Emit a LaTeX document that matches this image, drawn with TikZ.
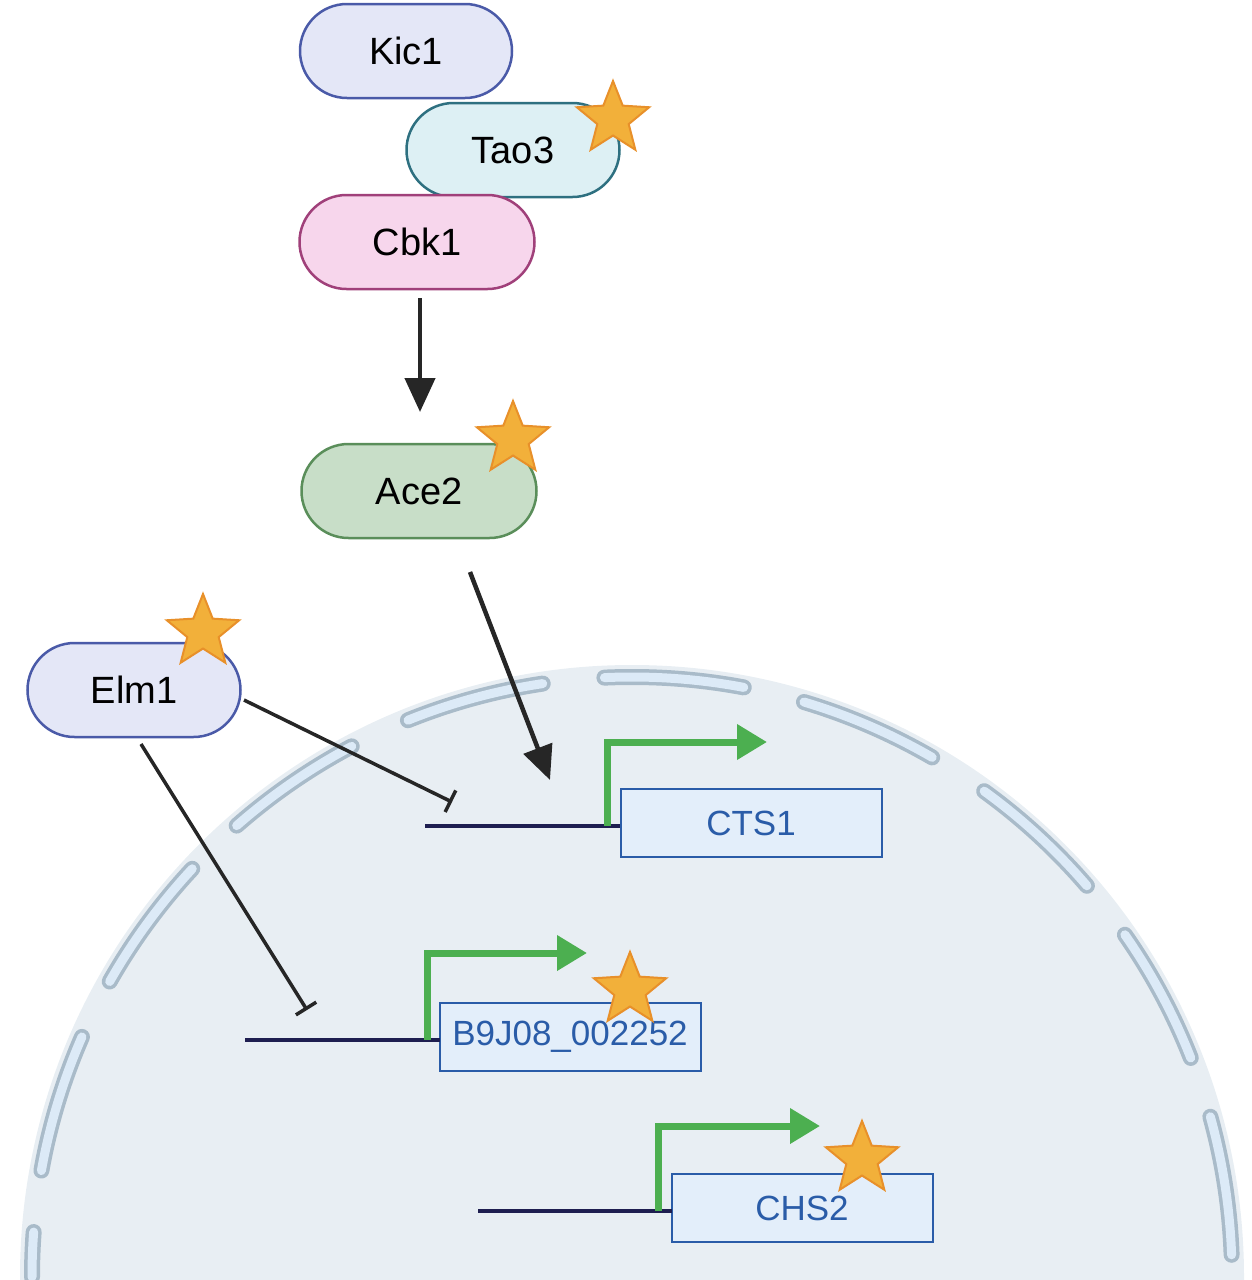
\documentclass[tikz,border=0pt]{standalone}
\usepackage{fontspec}
\setmainfont{Liberation Sans}
\usetikzlibrary{shapes.geometric,arrows.meta}
\definecolor{nuc}{HTML}{E8EEF3}
\definecolor{memo}{HTML}{A9BBC9}
\definecolor{memi}{HTML}{DCEAF7}
\definecolor{gbox}{HTML}{E3EEFA}
\definecolor{gtxt}{HTML}{2A5CA8}
\definecolor{gline}{HTML}{1E1E50}
\definecolor{ggreen}{HTML}{4CAF50}
\definecolor{starf}{HTML}{F2B03A}
\definecolor{stard}{HTML}{E8902A}
\definecolor{lav}{HTML}{E4E7F7}
\tikzset{
 prot/.style={draw, rounded corners=47pt, line width=2.5pt, minimum height=94pt, font=\fontsize{38}{42}\selectfont, inner sep=0},
 pstar/.style={star, star points=5, star point ratio=2.3, minimum size=76pt, fill=starf, draw=stard, line width=2pt, inner sep=0},
 gene/.style={draw=gtxt, fill=gbox, line width=2pt, minimum width=261pt, minimum height=68pt, text=gtxt, font=\fontsize{35}{38}\selectfont, inner sep=0},
 act/.style={line width=4.5pt, -{Triangle[length=34pt,width=30pt]}},
 inh/.style={line width=3.5pt, -{Bar[width=24pt,line width=3.5pt]}},
 dna/.style={gline, line width=4pt},
 tss/.style={ggreen, line width=7pt, -{Triangle[length=30pt,width=34pt]}},
 mem/.style={line width=#1, line cap=round, dash pattern=on 140pt off 62pt, dash phase=95pt}
}
\begin{document}
\begin{tikzpicture}[x=1pt,y=-1pt]
\useasboundingbox (0,0) rectangle (1252,1280);
\begin{scope}
\clip (0,0) rectangle (1252,1280);
\fill[nuc] (632,1277) circle (612);
\draw[memo, mem=16pt] (32,1277) arc (180:360:600);
\draw[memi, mem=9pt] (32,1277) arc (180:360:600);
\end{scope}
% proteins
\node[prot, fill=lav, draw={rgb,255:red,74;green,90;blue,168}, minimum width=212pt] (kic) at (406,51) {Kic1};
\node[prot, fill={rgb,255:red,221;green,240;blue,244}, draw={rgb,255:red,46;green,112;blue,128}, minimum width=213pt] (tao) at (513,150) {Tao3};
\node[prot, fill={rgb,255:red,247;green,214;blue,236}, draw={rgb,255:red,160;green,64;blue,122}, minimum width=235pt] (cbk) at (417,242) {Cbk1};
\node[prot, fill={rgb,255:red,200;green,222;blue,200}, draw={rgb,255:red,90;green,142;blue,90}, minimum width=235pt] (ace) at (419,491) {Ace2};
\node[prot, fill=lav, draw={rgb,255:red,74;green,90;blue,168}, minimum width=213pt] (elm) at (134,690) {Elm1};
\node[pstar] (s1) at (613,119) {};
\node[pstar] (s2) at (513,439) {};
\node[pstar] (s3) at (203,632) {};
% genes
\node[gene] (cts) at (751,823) {CTS1};
\node[gene] (b9) at (570,1037) {B9J08\_002252};
\node[gene] (chs) at (802,1208) {CHS2};
\node[pstar] (s4) at (630,990) {};
\node[pstar] (s5) at (862,1159) {};
\coordinate (d1a) at (425,826); \coordinate (d1b) at (620,826);
\coordinate (d2a) at (245,1040); \coordinate (d2b) at (440,1040);
\coordinate (d3a) at (478,1211); \coordinate (d3b) at (672,1211);
\draw[dna] (d1a) -- (d1b);
\draw[dna] (d2a) -- (d2b);
\draw[dna] (d3a) -- (d3b);
\coordinate (t1) at (607,826); \coordinate (t1e) at (767,742);
\coordinate (t2) at (427,1040); \coordinate (t2e) at (587,953);
\coordinate (t3) at (658,1211); \coordinate (t3e) at (820,1126);
\draw[tss] (t1) |- (t1e);
\draw[tss] (t2) |- (t2e);
\draw[tss] (t3) |- (t3e);
% connectors
\coordinate (a1) at (420,298); \coordinate (a1e) at (420,412);
\draw[act, black!85] (a1) -- (a1e);
\coordinate (a2) at (470,572); \coordinate (a2e) at (550,780);
\draw[act, black!85] (a2) -- (a2e);
\coordinate (i1) at (244,700); \coordinate (i1e) at (452,802);
\draw[inh, black!85] (i1) -- (i1e);
\coordinate (i2) at (141,744); \coordinate (i2e) at (307,1010);
\draw[inh, black!85] (i2) -- (i2e);
\end{tikzpicture}
\end{document}
